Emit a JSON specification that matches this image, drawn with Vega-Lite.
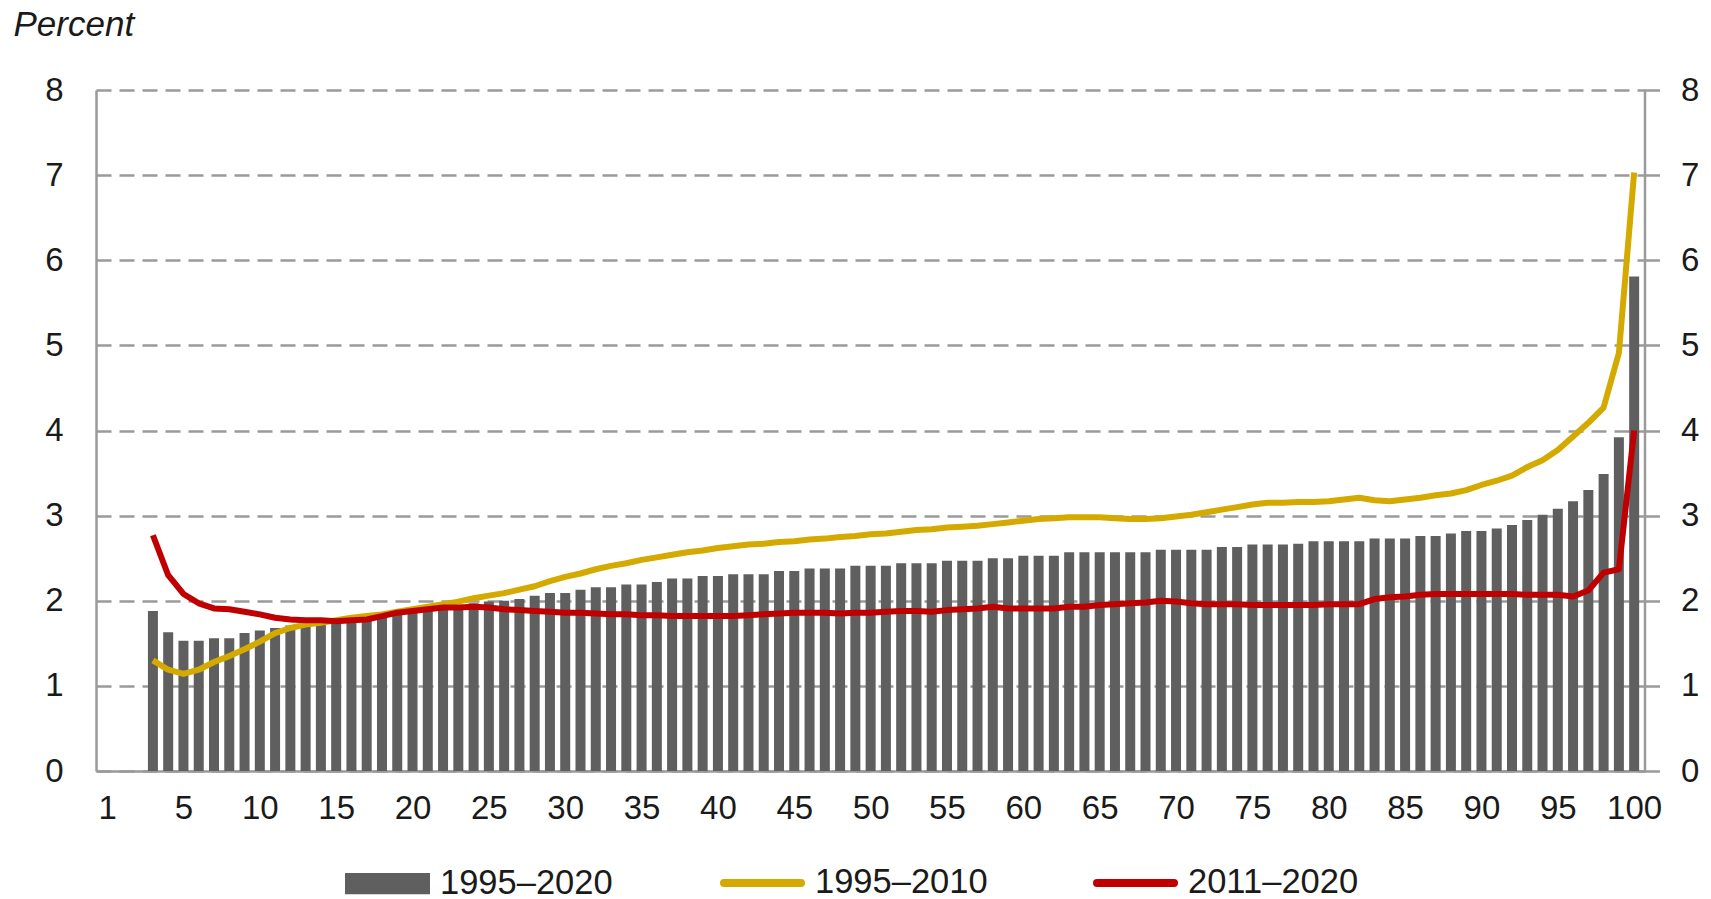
{
  "$schema": "https://vega.github.io/schema/vega-lite/v6.json",
  "autosize": {"type": "none"},
  "width": 1548.5,
  "height": 681,
  "padding": {"left": 96, "top": 90, "right": 66.5, "bottom": 128},
  "background": "white",
  "config": {
    "view": {"stroke": null},
    "font": "Liberation Sans"
  },
  "datasets": {
    "bars": [
      {"p":3,"v":1.88},{"p":4,"v":1.63},{"p":5,"v":1.53},{"p":6,"v":1.53},{"p":7,"v":1.56},{"p":8,"v":1.56},{"p":9,"v":1.62},{"p":10,"v":1.65},
      {"p":11,"v":1.68},{"p":12,"v":1.71},{"p":13,"v":1.73},{"p":14,"v":1.75},{"p":15,"v":1.76},{"p":16,"v":1.78},{"p":17,"v":1.80},{"p":18,"v":1.83},{"p":19,"v":1.86},{"p":20,"v":1.88},
      {"p":21,"v":1.90},{"p":22,"v":1.93},{"p":23,"v":1.95},{"p":24,"v":1.97},{"p":25,"v":1.99},{"p":26,"v":2.00},{"p":27,"v":2.02},{"p":28,"v":2.06},{"p":29,"v":2.09},{"p":30,"v":2.09},
      {"p":31,"v":2.13},{"p":32,"v":2.16},{"p":33,"v":2.16},{"p":34,"v":2.19},{"p":35,"v":2.19},{"p":36,"v":2.22},{"p":37,"v":2.26},{"p":38,"v":2.26},{"p":39,"v":2.29},{"p":40,"v":2.29},
      {"p":41,"v":2.31},{"p":42,"v":2.31},{"p":43,"v":2.31},{"p":44,"v":2.35},{"p":45,"v":2.35},{"p":46,"v":2.38},{"p":47,"v":2.38},{"p":48,"v":2.38},{"p":49,"v":2.41},{"p":50,"v":2.41},
      {"p":51,"v":2.41},{"p":52,"v":2.44},{"p":53,"v":2.44},{"p":54,"v":2.44},{"p":55,"v":2.47},{"p":56,"v":2.47},{"p":57,"v":2.47},{"p":58,"v":2.50},{"p":59,"v":2.50},{"p":60,"v":2.53},
      {"p":61,"v":2.53},{"p":62,"v":2.53},{"p":63,"v":2.57},{"p":64,"v":2.57},{"p":65,"v":2.57},{"p":66,"v":2.57},{"p":67,"v":2.57},{"p":68,"v":2.57},{"p":69,"v":2.60},{"p":70,"v":2.60},
      {"p":71,"v":2.60},{"p":72,"v":2.60},{"p":73,"v":2.63},{"p":74,"v":2.63},{"p":75,"v":2.66},{"p":76,"v":2.66},{"p":77,"v":2.66},{"p":78,"v":2.67},{"p":79,"v":2.70},{"p":80,"v":2.70},
      {"p":81,"v":2.70},{"p":82,"v":2.70},{"p":83,"v":2.73},{"p":84,"v":2.73},{"p":85,"v":2.73},{"p":86,"v":2.76},{"p":87,"v":2.76},{"p":88,"v":2.79},{"p":89,"v":2.82},{"p":90,"v":2.82},
      {"p":91,"v":2.85},{"p":92,"v":2.89},{"p":93,"v":2.95},{"p":94,"v":3.01},{"p":95,"v":3.08},{"p":96,"v":3.17},{"p":97,"v":3.30},{"p":98,"v":3.49},{"p":99,"v":3.92},{"p":100,"v":5.81}
    ],
    "lines": [
      {"p":3,"s":"1995–2010","v":1.30},{"p":4,"s":"1995–2010","v":1.19},{"p":5,"s":"1995–2010","v":1.14},{"p":6,"s":"1995–2010","v":1.19},{"p":7,"s":"1995–2010","v":1.28},{"p":8,"s":"1995–2010","v":1.35},{"p":9,"s":"1995–2010","v":1.43},{"p":10,"s":"1995–2010","v":1.52},
      {"p":11,"s":"1995–2010","v":1.62},{"p":12,"s":"1995–2010","v":1.68},{"p":13,"s":"1995–2010","v":1.72},{"p":14,"s":"1995–2010","v":1.74},{"p":15,"s":"1995–2010","v":1.77},{"p":16,"s":"1995–2010","v":1.80},{"p":17,"s":"1995–2010","v":1.82},{"p":18,"s":"1995–2010","v":1.84},{"p":19,"s":"1995–2010","v":1.87},{"p":20,"s":"1995–2010","v":1.90},
      {"p":21,"s":"1995–2010","v":1.93},{"p":22,"s":"1995–2010","v":1.96},{"p":23,"s":"1995–2010","v":1.99},{"p":24,"s":"1995–2010","v":2.03},{"p":25,"s":"1995–2010","v":2.06},{"p":26,"s":"1995–2010","v":2.09},{"p":27,"s":"1995–2010","v":2.13},{"p":28,"s":"1995–2010","v":2.17},{"p":29,"s":"1995–2010","v":2.23},{"p":30,"s":"1995–2010","v":2.28},
      {"p":31,"s":"1995–2010","v":2.32},{"p":32,"s":"1995–2010","v":2.37},{"p":33,"s":"1995–2010","v":2.41},{"p":34,"s":"1995–2010","v":2.44},{"p":35,"s":"1995–2010","v":2.48},{"p":36,"s":"1995–2010","v":2.51},{"p":37,"s":"1995–2010","v":2.54},{"p":38,"s":"1995–2010","v":2.57},{"p":39,"s":"1995–2010","v":2.59},{"p":40,"s":"1995–2010","v":2.62},
      {"p":41,"s":"1995–2010","v":2.64},{"p":42,"s":"1995–2010","v":2.66},{"p":43,"s":"1995–2010","v":2.67},{"p":44,"s":"1995–2010","v":2.69},{"p":45,"s":"1995–2010","v":2.70},{"p":46,"s":"1995–2010","v":2.72},{"p":47,"s":"1995–2010","v":2.73},{"p":48,"s":"1995–2010","v":2.75},{"p":49,"s":"1995–2010","v":2.76},{"p":50,"s":"1995–2010","v":2.78},
      {"p":51,"s":"1995–2010","v":2.79},{"p":52,"s":"1995–2010","v":2.81},{"p":53,"s":"1995–2010","v":2.83},{"p":54,"s":"1995–2010","v":2.84},{"p":55,"s":"1995–2010","v":2.86},{"p":56,"s":"1995–2010","v":2.87},{"p":57,"s":"1995–2010","v":2.88},{"p":58,"s":"1995–2010","v":2.90},{"p":59,"s":"1995–2010","v":2.92},{"p":60,"s":"1995–2010","v":2.94},
      {"p":61,"s":"1995–2010","v":2.96},{"p":62,"s":"1995–2010","v":2.97},{"p":63,"s":"1995–2010","v":2.98},{"p":64,"s":"1995–2010","v":2.98},{"p":65,"s":"1995–2010","v":2.98},{"p":66,"s":"1995–2010","v":2.97},{"p":67,"s":"1995–2010","v":2.96},{"p":68,"s":"1995–2010","v":2.96},{"p":69,"s":"1995–2010","v":2.97},{"p":70,"s":"1995–2010","v":2.99},
      {"p":71,"s":"1995–2010","v":3.01},{"p":72,"s":"1995–2010","v":3.04},{"p":73,"s":"1995–2010","v":3.07},{"p":74,"s":"1995–2010","v":3.10},{"p":75,"s":"1995–2010","v":3.13},{"p":76,"s":"1995–2010","v":3.15},{"p":77,"s":"1995–2010","v":3.15},{"p":78,"s":"1995–2010","v":3.16},{"p":79,"s":"1995–2010","v":3.16},{"p":80,"s":"1995–2010","v":3.17},
      {"p":81,"s":"1995–2010","v":3.19},{"p":82,"s":"1995–2010","v":3.21},{"p":83,"s":"1995–2010","v":3.18},{"p":84,"s":"1995–2010","v":3.17},{"p":85,"s":"1995–2010","v":3.19},{"p":86,"s":"1995–2010","v":3.21},{"p":87,"s":"1995–2010","v":3.24},{"p":88,"s":"1995–2010","v":3.26},{"p":89,"s":"1995–2010","v":3.30},{"p":90,"s":"1995–2010","v":3.36},
      {"p":91,"s":"1995–2010","v":3.41},{"p":92,"s":"1995–2010","v":3.47},{"p":93,"s":"1995–2010","v":3.57},{"p":94,"s":"1995–2010","v":3.65},{"p":95,"s":"1995–2010","v":3.77},{"p":96,"s":"1995–2010","v":3.93},{"p":97,"s":"1995–2010","v":4.09},{"p":98,"s":"1995–2010","v":4.27},{"p":99,"s":"1995–2010","v":4.91},{"p":100,"s":"1995–2010","v":7.03},
      {"p":3,"s":"2011–2020","v":2.77},{"p":4,"s":"2011–2020","v":2.30},{"p":5,"s":"2011–2020","v":2.08},{"p":6,"s":"2011–2020","v":1.97},{"p":7,"s":"2011–2020","v":1.91},{"p":8,"s":"2011–2020","v":1.90},{"p":9,"s":"2011–2020","v":1.87},{"p":10,"s":"2011–2020","v":1.84},
      {"p":11,"s":"2011–2020","v":1.80},{"p":12,"s":"2011–2020","v":1.78},{"p":13,"s":"2011–2020","v":1.77},{"p":14,"s":"2011–2020","v":1.77},{"p":15,"s":"2011–2020","v":1.76},{"p":16,"s":"2011–2020","v":1.77},{"p":17,"s":"2011–2020","v":1.78},{"p":18,"s":"2011–2020","v":1.82},{"p":19,"s":"2011–2020","v":1.86},{"p":20,"s":"2011–2020","v":1.88},
      {"p":21,"s":"2011–2020","v":1.90},{"p":22,"s":"2011–2020","v":1.92},{"p":23,"s":"2011–2020","v":1.92},{"p":24,"s":"2011–2020","v":1.93},{"p":25,"s":"2011–2020","v":1.92},{"p":26,"s":"2011–2020","v":1.90},{"p":27,"s":"2011–2020","v":1.89},{"p":28,"s":"2011–2020","v":1.88},{"p":29,"s":"2011–2020","v":1.87},{"p":30,"s":"2011–2020","v":1.86},
      {"p":31,"s":"2011–2020","v":1.86},{"p":32,"s":"2011–2020","v":1.85},{"p":33,"s":"2011–2020","v":1.84},{"p":34,"s":"2011–2020","v":1.84},{"p":35,"s":"2011–2020","v":1.83},{"p":36,"s":"2011–2020","v":1.83},{"p":37,"s":"2011–2020","v":1.82},{"p":38,"s":"2011–2020","v":1.82},{"p":39,"s":"2011–2020","v":1.82},{"p":40,"s":"2011–2020","v":1.82},
      {"p":41,"s":"2011–2020","v":1.82},{"p":42,"s":"2011–2020","v":1.83},{"p":43,"s":"2011–2020","v":1.84},{"p":44,"s":"2011–2020","v":1.85},{"p":45,"s":"2011–2020","v":1.86},{"p":46,"s":"2011–2020","v":1.86},{"p":47,"s":"2011–2020","v":1.86},{"p":48,"s":"2011–2020","v":1.85},{"p":49,"s":"2011–2020","v":1.86},{"p":50,"s":"2011–2020","v":1.86},
      {"p":51,"s":"2011–2020","v":1.87},{"p":52,"s":"2011–2020","v":1.88},{"p":53,"s":"2011–2020","v":1.88},{"p":54,"s":"2011–2020","v":1.87},{"p":55,"s":"2011–2020","v":1.89},{"p":56,"s":"2011–2020","v":1.90},{"p":57,"s":"2011–2020","v":1.91},{"p":58,"s":"2011–2020","v":1.93},{"p":59,"s":"2011–2020","v":1.91},{"p":60,"s":"2011–2020","v":1.91},
      {"p":61,"s":"2011–2020","v":1.91},{"p":62,"s":"2011–2020","v":1.91},{"p":63,"s":"2011–2020","v":1.93},{"p":64,"s":"2011–2020","v":1.93},{"p":65,"s":"2011–2020","v":1.95},{"p":66,"s":"2011–2020","v":1.96},{"p":67,"s":"2011–2020","v":1.97},{"p":68,"s":"2011–2020","v":1.98},{"p":69,"s":"2011–2020","v":2.00},{"p":70,"s":"2011–2020","v":1.99},
      {"p":71,"s":"2011–2020","v":1.97},{"p":72,"s":"2011–2020","v":1.96},{"p":73,"s":"2011–2020","v":1.96},{"p":74,"s":"2011–2020","v":1.96},{"p":75,"s":"2011–2020","v":1.95},{"p":76,"s":"2011–2020","v":1.95},{"p":77,"s":"2011–2020","v":1.95},{"p":78,"s":"2011–2020","v":1.95},{"p":79,"s":"2011–2020","v":1.95},{"p":80,"s":"2011–2020","v":1.96},
      {"p":81,"s":"2011–2020","v":1.96},{"p":82,"s":"2011–2020","v":1.96},{"p":83,"s":"2011–2020","v":2.02},{"p":84,"s":"2011–2020","v":2.04},{"p":85,"s":"2011–2020","v":2.05},{"p":86,"s":"2011–2020","v":2.07},{"p":87,"s":"2011–2020","v":2.08},{"p":88,"s":"2011–2020","v":2.08},{"p":89,"s":"2011–2020","v":2.08},{"p":90,"s":"2011–2020","v":2.08},
      {"p":91,"s":"2011–2020","v":2.08},{"p":92,"s":"2011–2020","v":2.08},{"p":93,"s":"2011–2020","v":2.07},{"p":94,"s":"2011–2020","v":2.07},{"p":95,"s":"2011–2020","v":2.07},{"p":96,"s":"2011–2020","v":2.05},{"p":97,"s":"2011–2020","v":2.12},{"p":98,"s":"2011–2020","v":2.33},{"p":99,"s":"2011–2020","v":2.37},{"p":100,"s":"2011–2020","v":4.00}
    ]
  },
  "layer": [
    {
      "data": {"name": "bars"},
      "mark": {"type": "bar", "size": 10},
      "encoding": {
        "x": {
          "field": "p", "type": "quantitative",
          "scale": {"domain": [-0.4, 100.35], "nice": false, "zero": false},
          "axis": {
            "values": [0,5,10,15,20,25,30,35,40,45,50,55,60,65,70,75,80,85,90,95,100],
            "format": "d",
            "labelExpr": "datum.value === 0 ? '1' : datum.label",
            "title": null, "grid": false, "ticks": false, "tickSize": 0,
            "domainColor": "#9a9a9a", "domainWidth": 2.5,
            "labelFont": "Liberation Sans", "labelFontSize": 33, "labelColor": "#1a1a1a",
            "labelPadding": 21, "labelAngle": 0, "labelFlush": false, "labelOverlap": false
          }
        },
        "y": {
          "field": "v", "type": "quantitative",
          "scale": {"domain": [0, 8], "nice": false},
          "axis": {
            "orient": "left",
            "values": [0,1,2,3,4,5,6,7,8],
            "grid": true, "gridDash": [15, 8], "gridColor": "#9a9a9a", "gridWidth": 2.5,
            "domainColor": "#9a9a9a", "domainWidth": 2.5,
            "ticks": false, "tickSize": 0,
            "labelFont": "Liberation Sans", "labelFontSize": 33, "labelColor": "#1a1a1a", "labelPadding": 33,
            "title": "Percent", "titleAngle": 0, "titleX": -83, "titleY": -66,
            "titleAlign": "left", "titleBaseline": "middle",
            "titleFont": "Liberation Sans", "titleFontStyle": "italic", "titleFontWeight": "normal",
            "titleFontSize": 35, "titleColor": "#1a1a1a"
          }
        },
        "fill": {
          "datum": "1995–2020",
          "type": "nominal",
          "scale": {"domain": ["1995–2020"], "range": ["#5f5f5f"]},
          "legend": {
            "orient": "none", "legendX": 249, "legendY": 751, "direction": "horizontal",
            "title": null, "symbolType": "M-1,-0.25H1V0.25H-1Z", "symbolSize": 7225, "symbolStrokeWidth": 0,
            "symbolOpacity": 1,
            "labelFont": "Liberation Sans", "labelFontSize": 34.5, "labelColor": "#1a1a1a", "labelLimit": 400,
            "labelOffset": 10
          }
        }
      }
    },
    {
      "data": {"name": "lines"},
      "mark": {"type": "line", "strokeWidth": 6, "strokeJoin": "round", "strokeCap": "butt"},
      "encoding": {
        "x": {"field": "p", "type": "quantitative"},
        "y": {
          "field": "v", "type": "quantitative",
          "axis": {
            "orient": "right",
            "values": [0,1,2,3,4,5,6,7,8],
            "grid": false,
            "domainColor": "#9a9a9a", "domainWidth": 2.5,
            "ticks": true, "tickSize": 15, "tickColor": "#9a9a9a", "tickWidth": 2.5,
            "labelFont": "Liberation Sans", "labelFontSize": 33, "labelColor": "#1a1a1a", "labelPadding": 21,
            "title": null
          }
        },
        "stroke": {
          "field": "s", "type": "nominal",
          "scale": {"domain": ["1995–2010", "2011–2020"], "range": ["#d4aa00", "#c00000"]},
          "legend": {
            "orient": "none", "legendX": 624, "legendY": 750.5, "direction": "horizontal",
            "title": null, "symbolType": "M-1,0H1", "symbolSize": 5929, "symbolStrokeWidth": 8,
            "symbolOpacity": 1,
            "labelFont": "Liberation Sans", "labelFontSize": 34.5, "labelColor": "#1a1a1a", "labelLimit": 400,
            "labelOffset": 10, "columnPadding": 93,
            "encode": {
              "symbols": {
                "update": {
                  "strokeCap": {"value": "round"},
                  "fill": {"value": "transparent"}
                }
              }
            }
          }
        }
      }
    }
  ],
  "resolve": {"axis": {"y": "independent"}}
}
